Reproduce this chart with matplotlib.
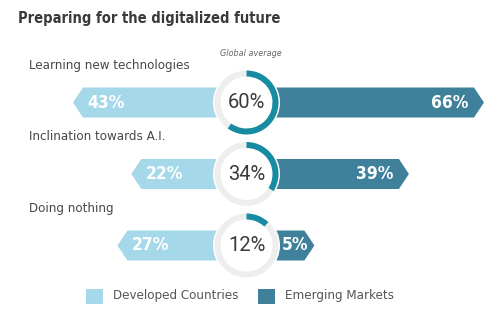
"""Preparing for the digitalized future: diverging arrow bars around a ring gauge."""

import matplotlib.pyplot as plt
from matplotlib.patches import Circle, Polygon, Rectangle, Wedge

categories = ["Learning new technologies", "Inclination towards A.I.", "Doing nothing"]
developed = [43, 22, 27]
emerging = [66, 39, 5]
global_avg = [60, 34, 12]
legend_labels = ["Developed Countries", "Emerging Markets"]

LIGHT = "#a5d8e9"
DARK = "#3f819b"
RING = "#178ba1"
TRACK = "#eeeeee"
NARROW = dict(family="DejaVu Sans", fontstretch="condensed")

W, H = 490, 325
CX = 246.5          # ring centre (px)
ROW0, ROW_STEP = 102.5, 71.5
BAR_H = 30
R_OUT, R_W = 32, 6
BAR_BASE = R_OUT + 1  # bars start at the ring edge
PAD = 21            # minimum bar length
PX_PER_PCT = 2.78
TIP = 10            # arrow depth


def arrow(y, value, side):
    """Arrow-shaped bar starting at the ring centre, pointing left (-1) or right (+1)."""
    tip = CX + side * (BAR_BASE + PAD + value * PX_PER_PCT)
    body = tip - side * TIP
    top, bot = y - BAR_H / 2, y + BAR_H / 2
    return [(CX, top), (body, top), (tip, y), (body, bot), (CX, bot)], tip, body


fig = plt.figure(figsize=(W / 100, H / 100), dpi=100)
ax = fig.add_axes([0, 0, 1, 1])
ax.set_xlim(0, W)
ax.set_ylim(H, 0)
ax.set_aspect("equal")
ax.axis("off")

ax.text(18, 19, "Preparing for the digitalized future", **NARROW,
        fontweight="bold", fontsize=10.5, color="#3a3a3a", va="center")
ax.text(CX + 4, 54, "Global average", **NARROW, style="italic",
        fontsize=6.5, color="#666666", ha="center", va="center")

for i, (cat, dev, emg, avg) in enumerate(zip(categories, developed, emerging, global_avg)):
    y = ROW0 + i * ROW_STEP
    ax.text(29, y - 37, cat, **NARROW, fontsize=9.5, color="#474747", va="center")

    pts, tip, body = arrow(y, dev, -1)
    ax.add_patch(Polygon(pts, closed=True, color=LIGHT, lw=0, zorder=1))
    ax.text(tip + 14, y, f"{dev}%", **NARROW, fontweight="bold", fontsize=12.5,
            color="white", ha="left", va="center", zorder=2)

    pts, tip, body = arrow(y, emg, 1)
    ax.add_patch(Polygon(pts, closed=True, color=DARK, lw=0, zorder=1))
    ax.text(max(body - 6, CX + 62), y, f"{emg}%", **NARROW, fontweight="bold",
            fontsize=12.5, color="white", ha="right", va="center", zorder=2)

    ax.add_patch(Circle((CX, y), R_OUT + 1.5, color="white", lw=0, zorder=3))
    ax.add_patch(Wedge((CX, y), R_OUT, 0, 360, width=R_W, color=TRACK, lw=0, zorder=4))
    ax.add_patch(Wedge((CX, y), R_OUT, -90, -90 + 3.6 * avg, width=R_W,
                       color=RING, lw=0, zorder=5))
    ax.text(CX, y, f"{avg}%", family="Roboto", fontsize=14.5,
            color="#3a3a3a", ha="center", va="center", zorder=6)

for x, color, label in zip([86, 258], [LIGHT, DARK], legend_labels):
    ax.add_patch(Rectangle((x, 289), 17, 15, color=color, lw=0))
    ax.text(x + 27, 296, label, **NARROW, fontsize=9.5, color="#555555", va="center")

fig.savefig("out.png", dpi=100)
